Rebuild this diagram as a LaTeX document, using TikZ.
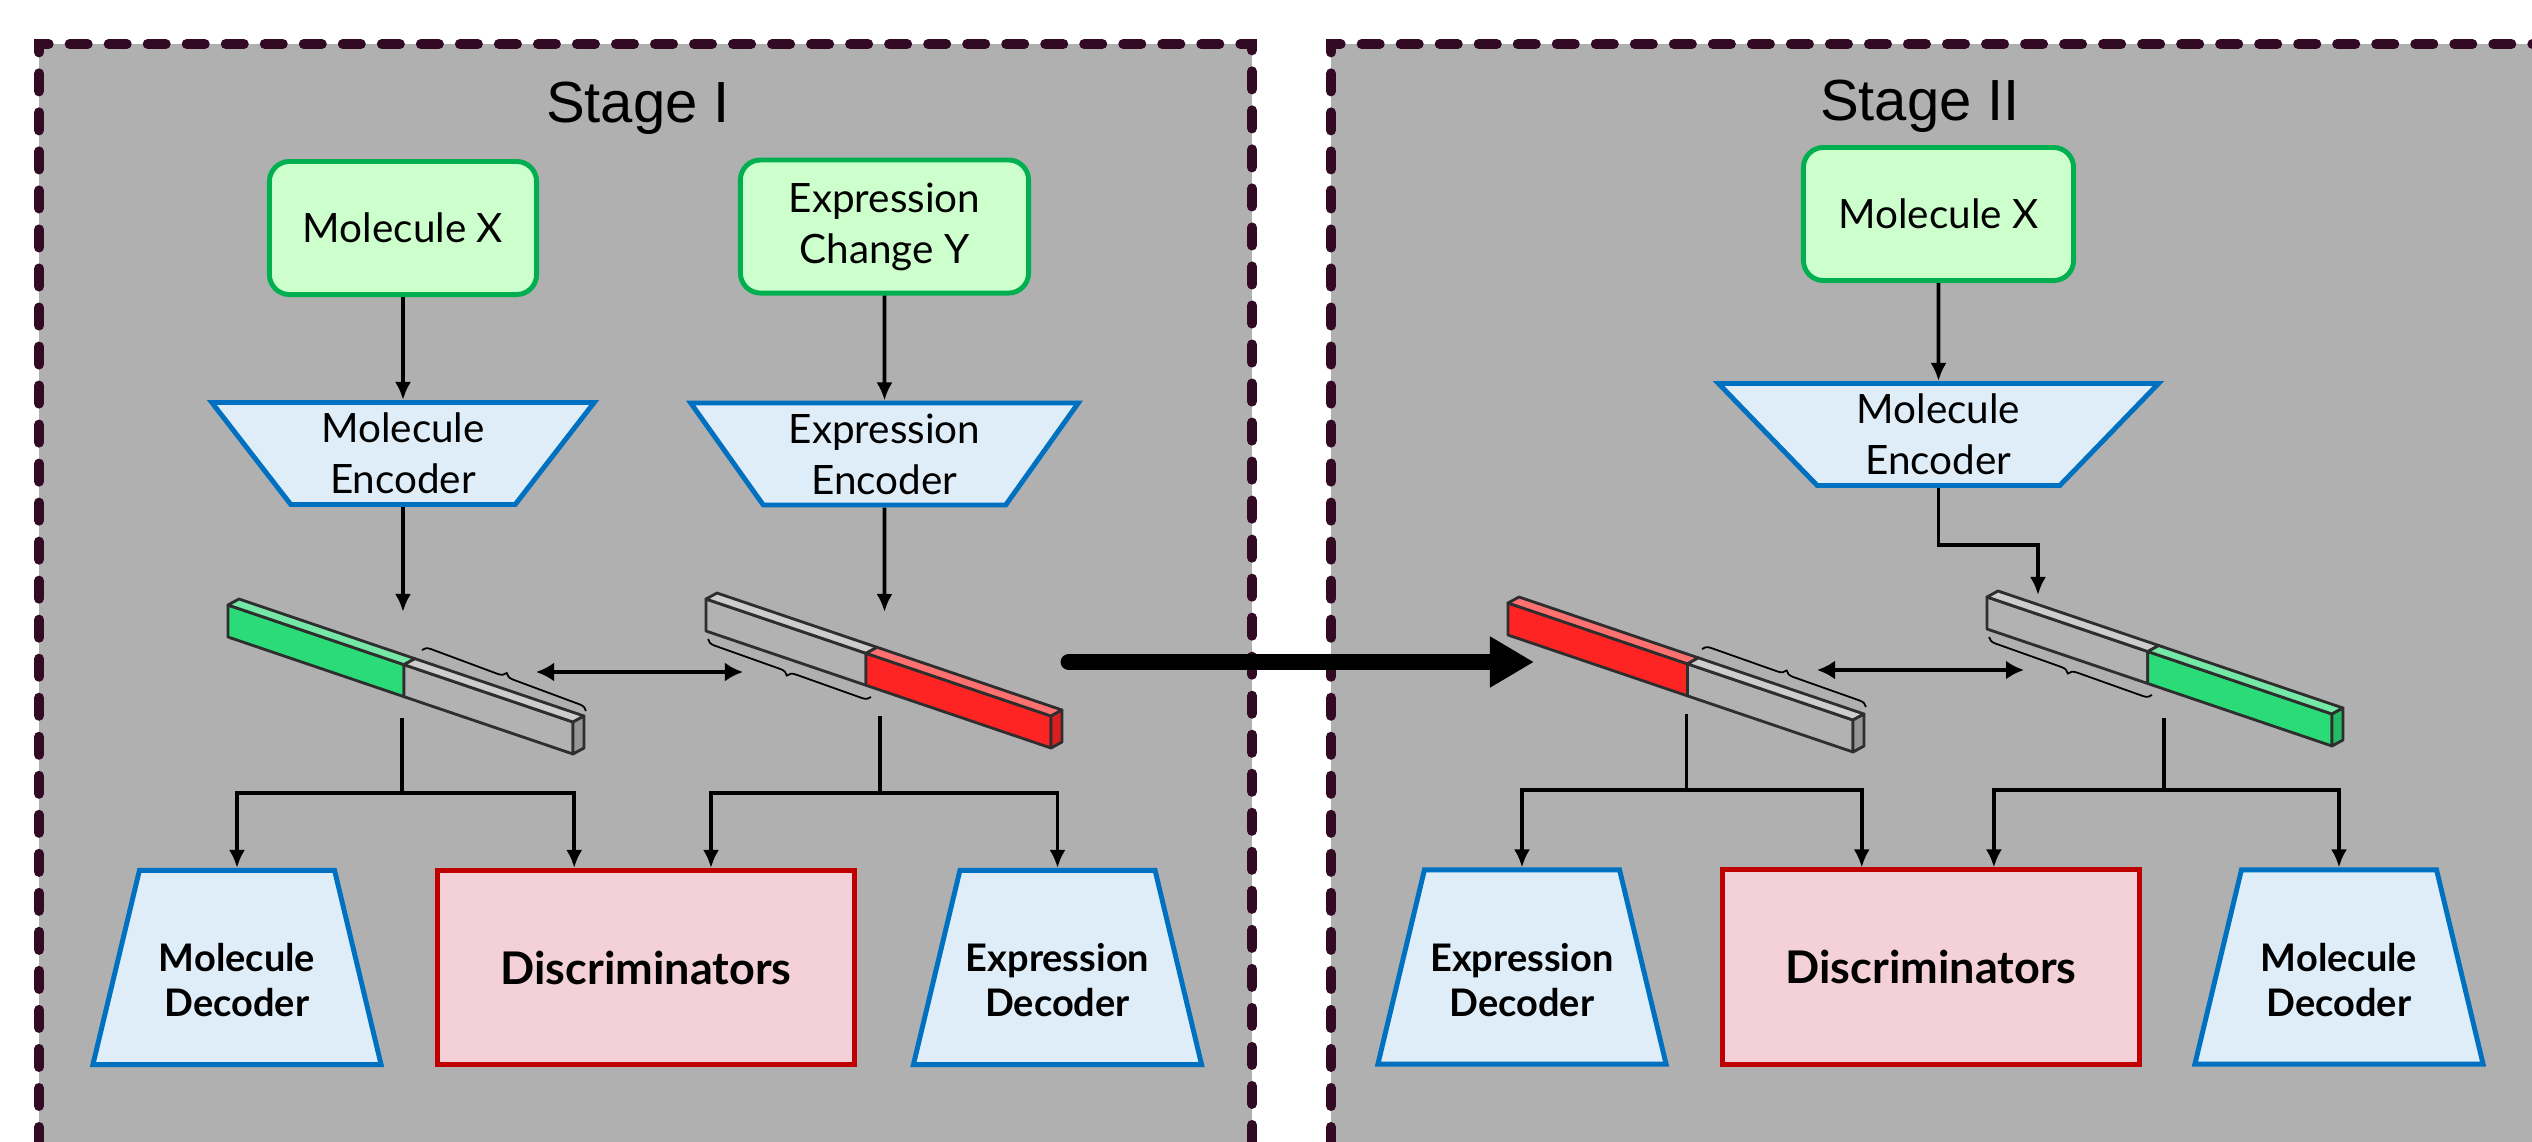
\documentclass[tikz,border=0pt]{standalone}
\usepackage{fontspec}
\newfontfamily\boxfont{Lato}
\newfontfamily\stagefont{Liberation Sans}
\usetikzlibrary{arrows.meta,calc,shapes.geometric,decorations.pathreplacing}

\definecolor{panelgray}{HTML}{B0B0B0}
\definecolor{dashcol}{HTML}{330A24}
\definecolor{boxgreen}{HTML}{00B050}
\definecolor{boxfill}{HTML}{CCFFCC}
\definecolor{encblue}{HTML}{0070C0}
\definecolor{encfill}{HTML}{DEEDF7}
\definecolor{discred}{HTML}{C00000}
\definecolor{discfill}{HTML}{F4D0D8}
\definecolor{bargreen}{HTML}{2ADB78}
\definecolor{barred}{HTML}{FF2424}
\definecolor{bargray}{HTML}{B2B2B2}
\definecolor{baredge}{HTML}{2E2E2E}

\tikzset{
  inbox/.style={draw=boxgreen, fill=boxfill, line width=1.4pt, rounded corners=0.2cm,
    minimum height=1.33cm, align=center, font=\boxfont\fontsize{11.5}{14.5}\selectfont},
  encoder/.style={trapezium, trapezium stretches=true, trapezium left angle=#1,
    trapezium right angle=#1, draw=encblue, fill=encfill, line width=1.4pt,
    minimum height=1.02cm, inner sep=0pt, align=center,
    font=\boxfont\fontsize{11.5}{14.5}\selectfont},
  decoder/.style={trapezium, trapezium stretches=true, trapezium left angle=76.6,
    trapezium right angle=76.6, draw=encblue, fill=encfill, line width=1.4pt,
    minimum width=2.88cm, minimum height=1.94cm, inner sep=2pt},
  dectext/.style={align=center, inner sep=0pt, yshift=-0.13cm,
    font=\boxfont\bfseries\fontsize{10.8}{12.8}\selectfont},
  discbox/.style={draw=discred, fill=discfill, line width=1.4pt, minimum width=4.17cm,
    minimum height=1.94cm, font=\boxfont\bfseries\fontsize{12.8}{15}\selectfont},
  stagelabel/.style={font=\stagefont\fontsize{16.5}{19}\selectfont, inner sep=0pt},
  arr/.style={-{Latex[length=0.18cm,width=0.16cm]}, line width=1.1pt},
  linkarrow/.style={{Latex[length=0.18cm,width=0.19cm]}-{Latex[length=0.18cm,width=0.19cm]},
    line width=1.2pt},
  stagearrow/.style={-{Triangle[length=0.44cm,width=0.48cm]}, line width=4.8pt, line cap=round},
  panelborder/.style={draw=dashcol, line width=2.85pt, line cap=round,
    dash pattern=on 0.18cm off 0.21cm, dash phase=0.24cm},
  barline/.style={draw=baredge, line width=0.8pt, line join=round},
  bracemark/.style={decorate, decoration={brace, amplitude=0.08cm}, line width=0.5pt},
}

% latent code: name, x, y, split, left colour, right colour
\newcommand{\latent}[6]{
  \pgfmathsetmacro{\splitx}{#4*345}
  \pgfmathsetmacro{\splity}{#4*117}
  \begin{scope}[shift={(#2,#3)}]
    \coordinate (#1) at (0,0);
    \filldraw[barline, fill=#5] (0,0) -- (\splitx,\splity) -- (\splitx,\splity+32) -- (0,32) -- cycle;
    \filldraw[barline, fill=#6] (\splitx,\splity) -- (345,117) -- (345,149) -- (\splitx,\splity+32) -- cycle;
    \filldraw[barline, fill=#5!65!white] (0,0) -- (11,-6) -- (\splitx+11,\splity-6) -- (\splitx,\splity) -- cycle;
    \filldraw[barline, fill=#6!65!white] (\splitx,\splity) -- (\splitx+11,\splity-6) -- (356,111) -- (345,117) -- cycle;
    \filldraw[barline, fill=#6!85!black] (345,117) -- (356,111) -- (356,143) -- (345,149) -- cycle;
  \end{scope}
}

\begin{document}
\begin{tikzpicture}[x=0.01cm, y=-0.01cm]
  \useasboundingbox (0,0) rectangle (2532,1142);
  \clip (0,0) rectangle (2532,1142);

  % panels
  \fill[panelgray] (39,44) rectangle (1252,1160);
  \draw[panelborder] (39,1160) -- (39,44) -- (1252,44) -- (1252,1160);
  \fill[panelgray] (1331,44) rectangle (2560,1160);
  \draw[panelborder] (1331,1160) -- (1331,44) -- (2560,44);

  \node[stagelabel, anchor=base] (stage1) at (638,122) {Stage I};
  \node[stagelabel, anchor=base] (stage2) at (1920,120) {Stage II};

  % stage I
  \node[inbox, minimum width=2.67cm] (molx1) at (403,228) {Molecule X};
  \node[inbox, minimum width=2.88cm] (expy1) at (884.5,226.5) {Expression\\Change Y};
  \node[encoder=125.4, minimum width=3.83cm] (menc1) at (403,453.5) {Molecule\\Encoder};
  \node[encoder=125.4, minimum width=3.90cm] (eenc1) at (884.5,454) {Expression\\Encoder};

  \latent{lat1}{228}{605}{0.51}{bargreen}{bargray}
  \latent{lat2}{706}{599}{0.464}{bargray}{barred}
  \draw[bracemark] ($(lat1)+(194,45)$) -- ($(lat1)+(358,106)$);
  \draw[bracemark] ($(lat2)+(165,98)$) -- ($(lat2)+(2,40)$);

  \coordinate (in1) at (403,612);
  \coordinate (in2) at (884.5,612);
  \draw[arr] (molx1) -- (menc1);
  \draw[arr] (expy1) -- (eenc1);
  \draw[arr] (menc1) -- (in1);
  \draw[arr] (eenc1) -- (in2);

  \coordinate (link1a) at (536,672);
  \coordinate (link1b) at (743,672);
  \draw[linkarrow] (link1a) -- (link1b);

  \node[decoder] (mdec1) at (237,967.5) {};
  \node[dectext] (mdec1t) at (mdec1.center) {Molecule\\Decoder};
  \node[discbox] (disc1) at (646,967.5) {Discriminators};
  \node[decoder] (edec1) at (1057.5,967.5) {};
  \node[dectext] (edec1t) at (edec1.center) {Expression\\Decoder};

  \coordinate (out1) at (402,718);
  \coordinate (fork1) at (402,793);
  \coordinate (out2) at (880,716);
  \coordinate (fork2) at (880,793);
  \draw[arr, -] (out1) -- (fork1);
  \draw[arr] (fork1) -| (mdec1.north);
  \draw[arr] (fork1) -| ($(disc1.north west)!0.33!(disc1.north east)$);
  \draw[arr, -] (out2) -- (fork2);
  \draw[arr] (fork2) -| ($(disc1.north west)!0.654!(disc1.north east)$);
  \draw[arr] (fork2) -| (edec1.north);

  % stage II
  \node[inbox, minimum width=2.70cm] (molx2) at (1938.5,214) {Molecule X};
  \node[encoder=129.4, minimum width=4.42cm] (menc2) at (1938.5,434.5) {Molecule\\Encoder};

  \latent{lat3}{1508}{603}{0.52}{barred}{bargray}
  \latent{lat4}{1987}{597}{0.466}{bargray}{bargreen}
  \draw[bracemark] ($(lat3)+(194,46)$) -- ($(lat3)+(358,104)$);
  \draw[bracemark] ($(lat4)+(165,98)$) -- ($(lat4)+(2,40)$);

  \coordinate (in3) at (2038,595);
  \draw[arr] (molx2) -- (menc2);
  \draw[arr] (menc2.south) -- ++(0,57) -| (in3);

  \coordinate (link2a) at (1817,670);
  \coordinate (link2b) at (2024,670);
  \draw[linkarrow] (link2a) -- (link2b);

  \node[decoder] (edec2) at (1522,967) {};
  \node[dectext] (edec2t) at (edec2.center) {Expression\\Decoder};
  \node[discbox] (disc2) at (1931,967) {Discriminators};
  \node[decoder] (mdec2) at (2339,967) {};
  \node[dectext] (mdec2t) at (mdec2.center) {Molecule\\Decoder};

  \coordinate (out3) at (1686.5,714);
  \coordinate (fork3) at (1686.5,790);
  \coordinate (out4) at (2164,718);
  \coordinate (fork4) at (2164,790);
  \draw[arr, -] (out3) -- (fork3);
  \draw[arr] (fork3) -| (edec2.north);
  \draw[arr] (fork3) -| ($(disc2.north west)!0.336!(disc2.north east)$);
  \draw[arr, -] (out4) -- (fork4);
  \draw[arr] (fork4) -| ($(disc2.north west)!0.649!(disc2.north east)$);
  \draw[arr] (fork4) -| (mdec2.north);

  % stage I to stage II
  \coordinate (go1) at (1069,662);
  \coordinate (go2) at (1534,662);
  \draw[stagearrow] (go1) -- (go2);
\end{tikzpicture}
\end{document}
